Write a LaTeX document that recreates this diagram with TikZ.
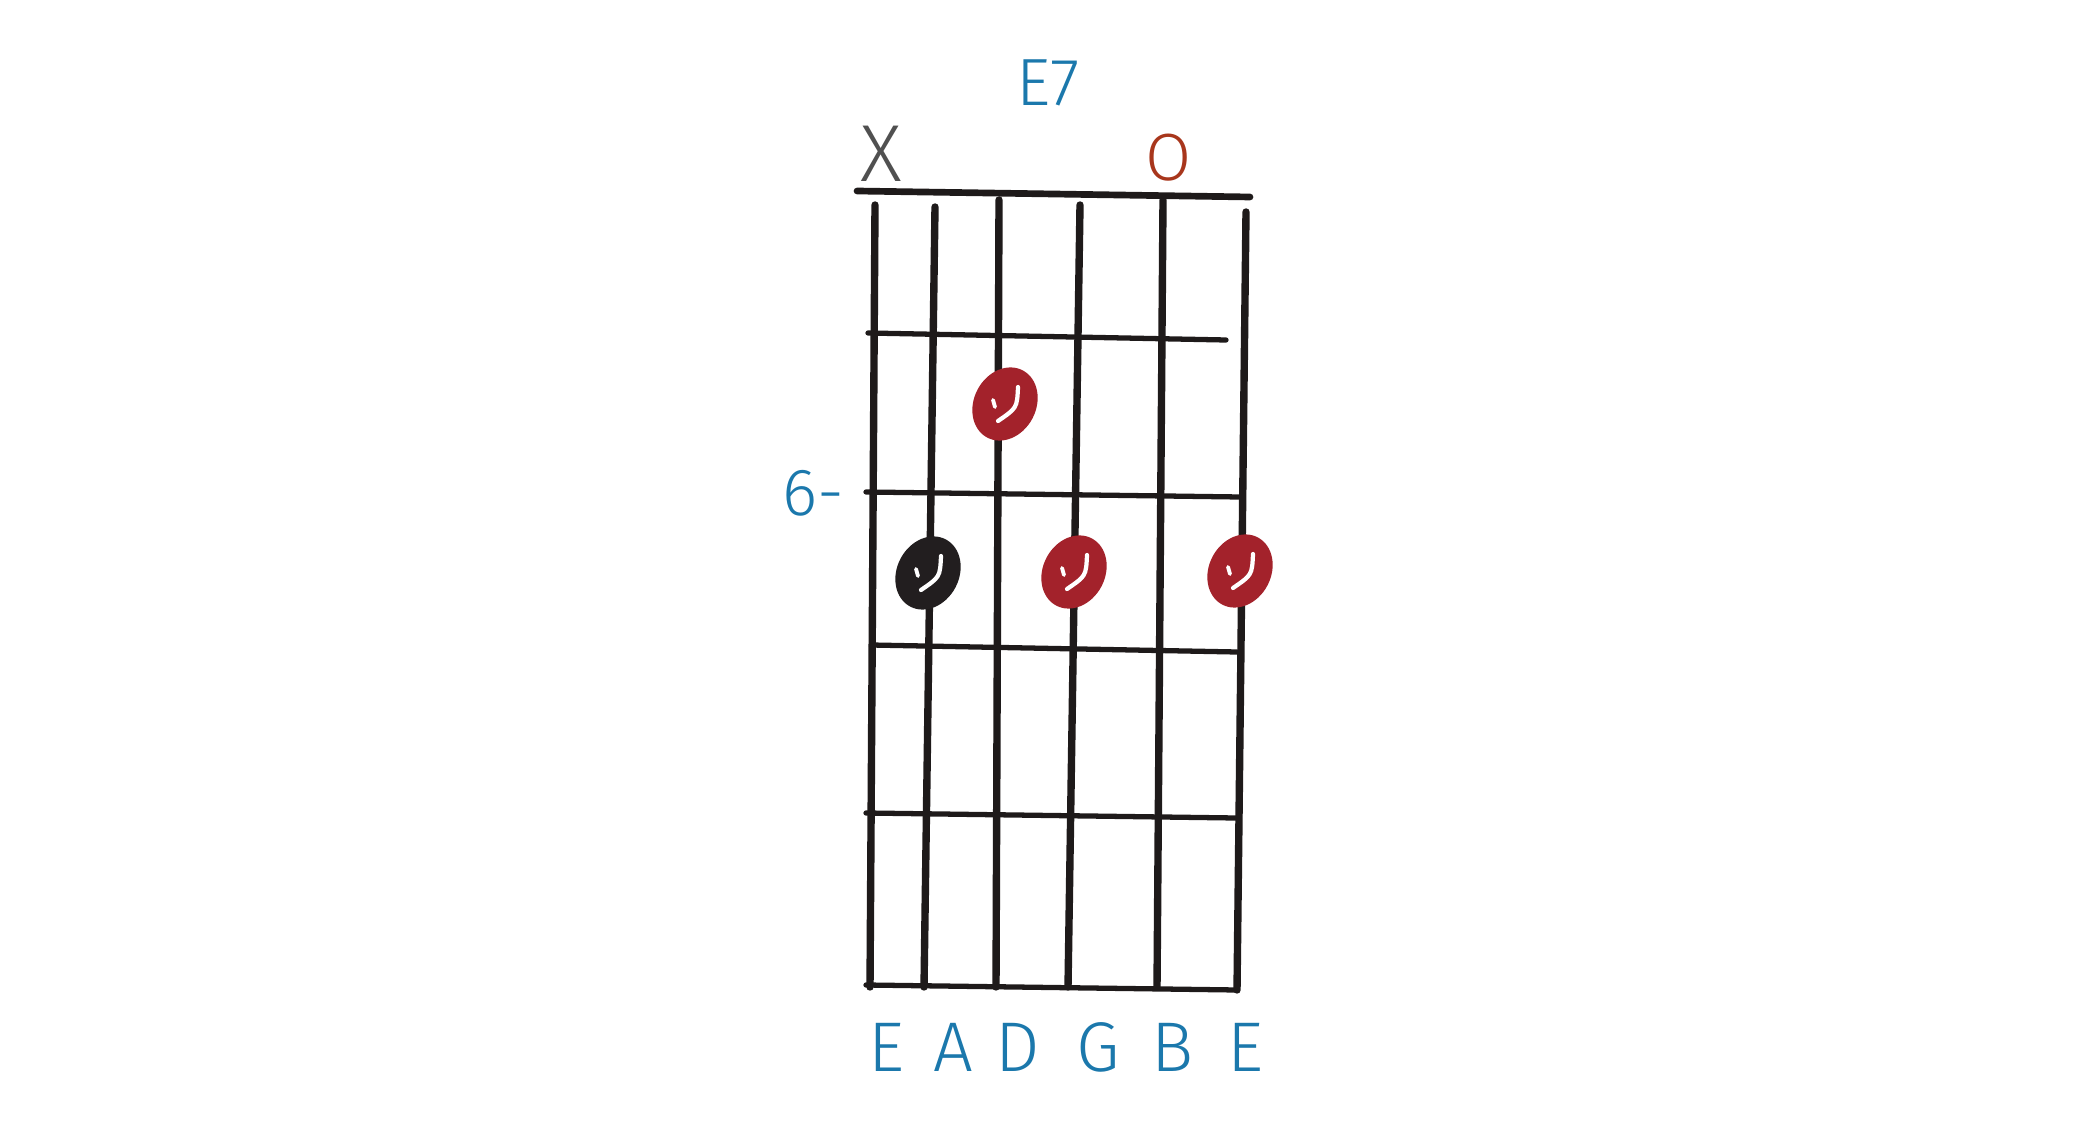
\documentclass[tikz,border=0pt]{standalone}
\usepackage{fontspec}
\usepackage{tikz}
\usetikzlibrary{positioning}
\newfontfamily\handfont{Fira Sans Light}
\definecolor{inkblue}{HTML}{1B78AC}
\definecolor{inkgray}{HTML}{505050}
\definecolor{inkrust}{HTML}{A8361C}
\definecolor{dotred}{HTML}{A3222B}
\definecolor{dotblack}{HTML}{221E1F}
\definecolor{fretink}{HTML}{1E1A1A}

\begin{document}
\begin{tikzpicture}[x=0.01cm, y=-0.01cm,
		hand/.style={font=\handfont\fontsize{19}{20}\selectfont, inner sep=0pt},
		string/.style={fretink, line width=2.1pt, line cap=round},
		fret/.style={fretink, line width=1.5pt, line cap=round}]
			\useasboundingbox (0,0) rectangle (2100,1125);
			% nut
			\draw[fretink, line width=1.9pt, line cap=round] (857,191) -- (1250,197);
			% strings
			\foreach \tx/\ty/\bx/\by in {875/205/870/987, 935/207/924/987, 999/200/996/987, 1080/205/1068/987, 1163/200/1157/987, 1246/212/1237/990}
				\draw[string] (\tx,\ty) -- (\bx,\by);
			% frets
			\foreach \lx/\ly/\rx/\ry in {868/333/1226/340, 866/492/1240/497, 871/645/1237/652, 866/813/1236/818, 866/985/1237/990}
				\draw[fret] (\lx,\ly) -- (\rx,\ry);
			% finger dots
			\foreach \cx/\cy/\col in {1005/404/dotred, 928/573/dotblack, 1074/572/dotred, 1240/571/dotred}{
				\fill[\col, rotate around={-28:(\cx,\cy)}] (\cx,\cy) ellipse [x radius=31, y radius=38];
				\draw[white, line width=1.2pt, line cap=round] (\cx+13,\cy-17) .. controls (\cx+12,\cy+4) .. (\cx-7,\cy+17);
				\draw[white, line width=1.1pt, line cap=round] (\cx-12,\cy-4) -- (\cx-10,\cy+3);
			}
			% labels
			\node[hand, inkblue] (chord) at (1048,83) {E7};
			\node[hand, inkgray, font=\handfont\fontsize{23}{24}\selectfont] (mute) at (881,154) {X};
			\node[hand, inkrust] (open) at (1169,158) {O};
			\node[hand, inkblue] (fretnum) at (813,493) {6-};
			\node[hand, inkblue, font=\handfont\fontsize{20}{22}\selectfont] (s1) at (886,1047) {E};
			\node[hand, inkblue, font=\handfont\fontsize{20}{22}\selectfont] (s2) at (953,1047) {A};
			\node[hand, inkblue, font=\handfont\fontsize{20}{22}\selectfont] (s3) at (1018,1047) {D};
			\node[hand, inkblue, font=\handfont\fontsize{20}{22}\selectfont] (s4) at (1098,1047) {G};
			\node[hand, inkblue, font=\handfont\fontsize{20}{22}\selectfont] (s5) at (1173,1047) {B};
			\node[hand, inkblue, font=\handfont\fontsize{20}{22}\selectfont] (s6) at (1245,1047) {E};
\end{tikzpicture}
\end{document}
